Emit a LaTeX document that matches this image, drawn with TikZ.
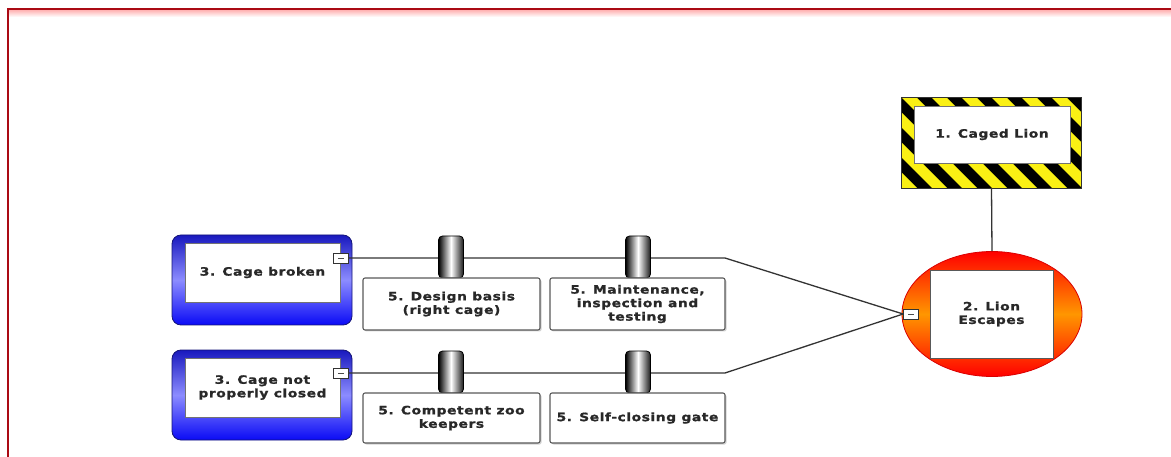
\documentclass[tikz,border=0pt]{standalone}
\usepackage{fontspec}
\usetikzlibrary{shapes.geometric,shadows}
\newfontfamily\lblfont{DejaVu Sans}[FakeStretch=1.2,LetterSpace=5,BoldFeatures={FakeBold=1.2}]
\definecolor{hazyellow}{RGB}{250,240,20}
\definecolor{framered}{RGB}{170,10,20}
\definecolor{txt}{RGB}{40,40,40}
\tikzset{
  lbl/.style={font=\lblfont\bfseries\fontsize{11.5}{13.5}\selectfont, text=txt, align=center},
  conn/.style={draw=black!80, line width=1.3pt},
  whitebox/.style={lbl, rectangle, fill=white, draw=black!55, line width=0.9pt, inner sep=0pt},
  barrierbox/.style={lbl, rectangle, fill=white, draw=black!65, line width=1.1pt, rounded corners=2pt,
    inner sep=0pt, drop shadow={shadow xshift=1.5pt, shadow yshift=-1.5pt, opacity=0.35}},
  barricon/.style={rectangle, rounded corners=4pt, minimum width=25pt, minimum height=42pt,
    left color=black, right color=black!90, middle color=white, draw=black, line width=0.8pt},
  minusbox/.style={rectangle, fill=white, draw=black!80, line width=0.8pt, minimum width=15pt,
    minimum height=10pt, inner sep=0pt, path picture={\draw[black!70, line width=0.8pt]
    ([xshift=-3pt]path picture bounding box.center) -- ([xshift=3pt]path picture bounding box.center);}},
  causeouter/.style={rectangle, rounded corners=9pt, minimum width=180pt, minimum height=90pt,
    top color={rgb,255:red,25;green,25;blue,190}, bottom color={rgb,255:red,10;green,10;blue,245},
    middle color={rgb,255:red,140;green,140;blue,255}, draw={rgb,255:red,20;green,20;blue,120}, line width=0.8pt},
}
\begin{document}
\begin{tikzpicture}[x=1pt,y=-1pt]
\useasboundingbox (0,0) rectangle (1171,457);
% frame
\shade[top color=red!30, bottom color=white] (9,10) rectangle (1171,17);
\draw[framered, line width=2pt] (8,457) -- (8,9) -- (1171,9);

% hazard
\node[rectangle, minimum width=179pt, minimum height=90pt, inner sep=0pt] (haz) at (991.5,143) {};
\begin{scope}
\clip (902,98) rectangle (1081,188);
\fill[black] (902,98) rectangle (1081,188);
\foreach \k in {0,...,9} \fill[hazyellow] ({812+30*\k},98) -- ++(15,0) -- ++(90,90) -- ++(-15,0) -- cycle;
\end{scope}
\draw[black!80, line width=0.8pt] (haz.north west) rectangle (haz.south east);
\node[whitebox, minimum width=156pt, minimum height=57pt] (hazt) at (992,134.5) {1. Caged Lion};

% top event
\node[ellipse, minimum width=180pt, minimum height=125pt, top color=red, bottom color=red,
  middle color={rgb,255:red,255;green,150;blue,0}, draw=red!85!black, line width=0.8pt] (top) at (992,314) {};
\node[whitebox, minimum width=123pt, minimum height=88pt, draw=black!65] (topt) at (991.5,314) {2. Lion\\Escapes};
\node[minusbox] (topm) at (911,314) {};
\draw[conn] (haz.south) -- (top.north);

% causes
\node[causeouter] (c1) at (262,280) {};
\node[whitebox, minimum width=155pt, minimum height=59pt] (c1t) at (262.5,272.5) {3. Cage broken};
\node[minusbox] (c1m) at (341,258) {};
\node[causeouter] (c2) at (262,395) {};
\node[whitebox, minimum width=155pt, minimum height=59pt] (c2t) at (262.5,387.5) {3. Cage not\\properly closed};
\node[minusbox] (c2m) at (341,373) {};

% connectors
\coordinate (k1) at (725,258);
\coordinate (k2) at (725,373);
\draw[conn] (c1m.east) -- (k1) -- (topm.west);
\draw[conn] (c2m.east) -- (k2) -- (topm.west);

% barriers
\node[barricon] (b11) at (451,257) {};
\node[barricon] (b12) at (638,257) {};
\node[barricon] (b21) at (451,372) {};
\node[barricon] (b22) at (638,372) {};
\node[barrierbox, minimum width=177pt, minimum height=52pt] (d11) at (451.5,304) {5. Design basis\\(right cage)};
\node[barrierbox, minimum width=175pt, minimum height=52pt] (d12) at (637.5,304) {5. Maintenance,\\inspection and\\testing};
\node[barrierbox, minimum width=177pt, minimum height=50pt] (d21) at (451.5,418) {5. Competent zoo\\keepers};
\node[barrierbox, minimum width=175pt, minimum height=50pt] (d22) at (637.5,418) {5. Self-closing gate};
\end{tikzpicture}
\end{document}
